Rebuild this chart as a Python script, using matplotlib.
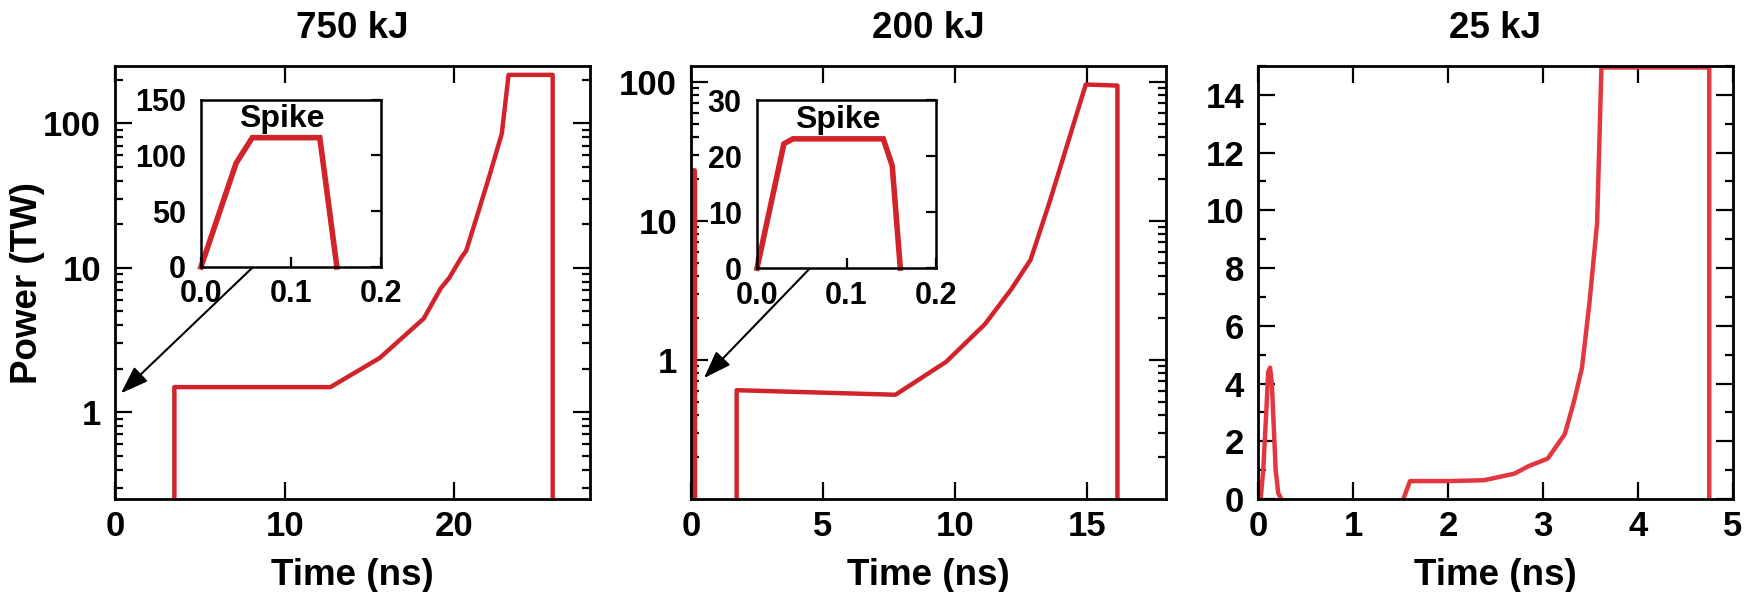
import numpy as np
import matplotlib
matplotlib.use('Agg')
import matplotlib.pyplot as plt
from matplotlib.ticker import FixedLocator, MultipleLocator, LogLocator, NullFormatter, FuncFormatter

plt.rcParams['font.family'] = ['Liberation Sans', 'DejaVu Sans']
plt.rcParams['font.weight'] = 'bold'

# ---- data ----
titles = ['750 kJ', '200 kJ', '25 kJ']

# 750 kJ main pulse
t750 = [3.5, 3.5, 12.7, 15.6, 18.2, 19.2, 19.7, 20.4, 20.7, 21.4, 22.1, 22.8, 23.2, 25.8, 25.8]
p750 = [0, 1.49, 1.49, 2.37, 4.45, 7.2, 8.5, 11.7, 13.1, 24, 44.5, 85, 217, 217, 0]
# 750 kJ spike (inset)
ts750 = [0.0, 0.039, 0.057, 0.132, 0.151]
ps750 = [0, 93, 116, 116, 0]

# 200 kJ main pulse
t200 = [1.73, 1.73, 7.75, 9.67, 11.14, 12.15, 12.87, 13.59, 14.96, 16.16, 16.16]
p200 = [0, 0.606, 0.562, 0.97, 1.81, 3.25, 5.26, 13.7, 95.7, 94, 0]
# 200 kJ spike (inset and main)
ts200 = [0.0, 0.030, 0.040, 0.141, 0.151, 0.160]
ps200 = [0, 22.2, 23.1, 23.1, 18.3, 0]

# 25 kJ spike + main pulse
ts25 = [0.028, 0.055, 0.087, 0.107, 0.127, 0.146, 0.166, 0.186, 0.213, 0.245]
ps25 = [0, 1.0, 3.0, 4.4, 4.55, 4.0, 2.5, 1.0, 0.2, 0]
t25 = [1.53, 1.60, 2.0, 2.38, 2.70, 2.85, 3.05, 3.23, 3.33, 3.41, 3.49, 3.57, 3.615, 4.75, 4.75]
p25 = [0, 0.62, 0.62, 0.65, 0.88, 1.14, 1.40, 2.25, 3.43, 4.54, 6.83, 9.58, 14.95, 14.95, 0]

red = '#d3232a'
red3 = '#e4363e'
FS = 25
FS_LAB = 26.5
FS_IN = 22

fig = plt.figure(figsize=(17.49, 5.92), dpi=100)
W, H = 1749, 592
lefts = [115, 691, 1258]
axes = [fig.add_axes([l / W, 1 - 499 / H, 475 / W, 433 / H]) for l in lefts]


def style(ax):
    for s in ax.spines.values():
        s.set_linewidth(2)
    ax.tick_params(which='both', direction='in', top=True, right=True, width=1.6)
    ax.tick_params(which='major', length=12)
    ax.tick_params(which='minor', length=6)
    ax.tick_params(axis='x', labelsize=FS, pad=8)
    ax.tick_params(axis='y', labelsize=FS, pad=10)
    ax.xaxis.set_minor_locator(FixedLocator([]))
    for lab in ax.get_xticklabels() + ax.get_yticklabels():
        lab.set_fontweight('bold')


def log_axis(ax):
    ax.set_yscale('log')
    ax.yaxis.set_major_locator(FixedLocator([1, 10, 100]))
    ax.yaxis.set_major_formatter(FuncFormatter(lambda v, p: f'{v:g}'))
    ax.yaxis.set_minor_locator(LogLocator(base=10, subs=np.arange(2, 10)))
    ax.yaxis.set_minor_formatter(NullFormatter())


def inset(ax, rect, tx, ty, ymax, ystep):
    ai = ax.inset_axes(rect)
    ai.plot(tx, ty, color=red, lw=4, solid_joinstyle='miter', clip_on=False)
    ai.set_xlim(0, 0.2)
    ai.set_ylim(0, ymax)
    ai.set_xticks([0.0, 0.1, 0.2])
    ai.set_xticklabels(['0.0', '0.1', '0.2'])
    ai.set_yticks(np.arange(0, ymax + 1, ystep))
    for s in ai.spines.values():
        s.set_linewidth(1.8)
    ai.tick_params(direction='in', length=7, width=1.6, left=False, right=True,
                   labelsize=FS_IN)
    ai.tick_params(axis='x', pad=9)
    ai.tick_params(axis='y', pad=11)
    for lab in ai.get_xticklabels() + ai.get_yticklabels():
        lab.set_fontweight('bold')
    ai.text(0.45, 0.885, 'Spike', transform=ai.transAxes, ha='center', va='center',
            fontsize=23, fontweight='bold')
    return ai


arrow = dict(arrowstyle='-|>,head_length=0.85,head_width=0.3', lw=1.5,
             color='black', shrinkA=0, shrinkB=0, mutation_scale=20)

# ---- 750 kJ ----
ax = axes[0]
log_axis(ax)
ax.plot(t750, p750, color=red, lw=3.2)
ax.set_xlim(0, 28)
ax.set_ylim(0.25, 250)
ax.set_xticks([0, 10, 20])
style(ax)
ai = inset(ax, [0.181, 0.536, 0.379, 0.386], ts750, ps750, 150, 50)
ax.annotate('', xy=(0.35, 1.35), xycoords='data', xytext=(0.29, 0.0),
            textcoords=ai.transAxes, arrowprops=arrow)
ax.set_ylabel('Power (TW)', fontsize=FS_LAB, fontweight='bold')
ax.yaxis.set_label_coords(-0.147, 0.5)

# ---- 200 kJ ----
ax = axes[1]
log_axis(ax)
ax.plot(ts200, ps200, color=red, lw=3.2)
ax.plot(t200, p200, color=red, lw=3.2)
ax.set_xlim(0, 18)
ax.set_ylim(0.1, 130)
ax.set_xticks([0, 5, 10, 15])
style(ax)
ai = inset(ax, [0.139, 0.533, 0.377, 0.388], ts200, ps200, 30, 10)
ax.annotate('', xy=(0.49, 0.74), xycoords='data', xytext=(0.296, 0.0),
            textcoords=ai.transAxes, arrowprops=arrow)

# ---- 25 kJ ----
ax = axes[2]
ax.plot(ts25, ps25, color=red3, lw=3.2)
ax.plot(t25, p25, color=red3, lw=3.2)
ax.set_xlim(0, 5)
ax.set_ylim(0, 15)
ax.set_xticks([0, 1, 2, 3, 4, 5])
ax.set_yticks([0, 2, 4, 6, 8, 10, 12, 14])
ax.yaxis.set_minor_locator(MultipleLocator(1))
style(ax)

for ax, title in zip(axes, titles):
    ax.set_title(title, fontsize=FS_LAB, fontweight='bold', pad=20)
    ax.set_xlabel('Time (ns)', fontsize=FS_LAB, fontweight='bold')
    ax.xaxis.set_label_coords(0.5, -0.136)

fig.savefig('out.png', dpi=100)
